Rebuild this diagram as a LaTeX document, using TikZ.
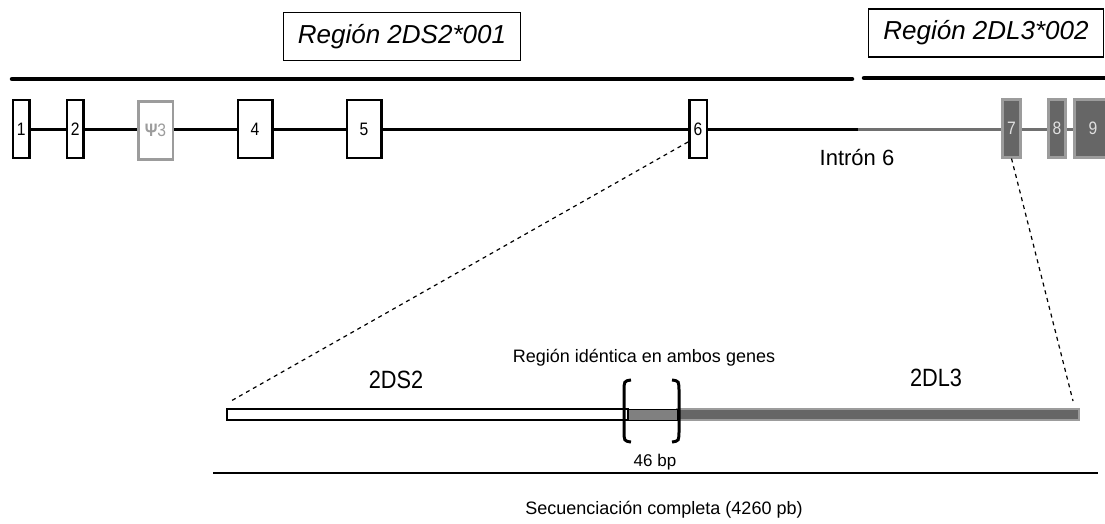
\documentclass[tikz,border=0pt]{standalone}
\usepackage{fontspec}
\setmainfont{Liberation Sans}
\newfontfamily\narrowsans[FakeStretch=0.87]{Liberation Sans}
\usetikzlibrary{calc}
\definecolor{dgray}{HTML}{666666}
\definecolor{lgray}{HTML}{9C9C9C}
\definecolor{mgray}{HTML}{808080}
\definecolor{igray}{HTML}{707070}
\tikzset{
  exon/.style={draw=black, line width=2.5pt, fill=white, minimum height=58pt, inner sep=0pt,
    font=\narrowsans\fontsize{18}{20}\selectfont},
  psexon/.style={draw=lgray, line width=2.5pt, fill=white, text=lgray, minimum height=58pt, inner sep=0pt,
    font=\narrowsans\fontsize{18}{20}\selectfont},
  gexon/.style={draw=lgray, line width=3pt, fill=dgray, text=white!88!black, minimum height=57pt, inner sep=0pt,
    font=\narrowsans\fontsize{18}{20}\selectfont},
  regionbox/.style={draw, line width=1.2pt, inner sep=0pt, minimum height=48pt,
    font=\itshape\fontsize{26}{30}\selectfont},
  bigline/.style={line width=4.5pt, line cap=round},
  gene/.style={line width=3pt},
  zoomline/.style={line width=1.2pt, dash pattern=on 4pt off 4pt},
  lbl/.style={inner sep=0pt},
}
\begin{document}
\begin{tikzpicture}[x=1pt,y=-1pt]
\useasboundingbox (0,0) rectangle (1105,524);

% region labels
\node[regionbox, minimum width=237pt] (r1) at (402,36.5) {Región 2DS2*001};
\node[regionbox, minimum width=235pt] (r2) at (986,33) {Región 2DL3*002};

% thick region lines
\coordinate (la) at (12,79);
\coordinate (lb) at (852,79);
\coordinate (lc) at (864,78);
\coordinate (ld) at (1110,78);
\draw[bigline] (la) -- (lb);
\draw[bigline] (lc) -- (ld);

% exons
\node[exon, minimum width=16.5pt] (e1) at (21.3,129) {1};
\node[exon, minimum width=16.5pt] (e2) at (75.3,129) {2};
\node[psexon, minimum width=34.5pt] (e3) at (155.5,130.5) {{\bfseries Ψ}3};
\node[exon, minimum width=34.5pt] (e4) at (255,129) {4};
\node[exon, minimum width=34.5pt] (e5) at (364,129) {5};
\node[exon, minimum width=17.5pt] (e6) at (698,129) {6};
\node[gexon, minimum width=18pt] (e7) at (1011.5,128.5) {7};
\node[gexon, minimum width=17pt] (e8) at (1057,128.5) {8};
\node[gexon, minimum width=37pt] (e9) at (1093,128.5) {9};
\coordinate (intr) at (858,130);

\draw[gene] (e1.east |- intr) -- (e2.west |- intr);
\draw[gene] (e2.east |- intr) -- (e3.west |- intr);
\draw[gene] (e3.east |- intr) -- (e4.west |- intr);
\draw[gene] (e4.east |- intr) -- (e5.west |- intr);
\draw[gene] (e5.east |- intr) -- (e6.west |- intr);
\draw[gene] (e6.east |- intr) -- (intr);
\draw[gene, igray] (intr) -- (e7.west |- intr);
\draw[gene, igray] (e7.east |- intr) -- (e8.west |- intr);
\draw[gene, igray] (e8.east |- intr) -- (e9.west |- intr);

\node[lbl, font=\fontsize{22}{24}\selectfont] (int6) at (857,158) {Intrón 6};

% zoom lines
\coordinate (zl) at (231,401);
\coordinate (zr) at (1073,401);
\draw[zoomline] ($(e6.west)+(0,13)$) -- (zl);
\draw[zoomline] (e7.south) -- (zr);

% bottom bar
\draw[line width=1.2pt, fill=white] (227,409) rectangle (628,420);
\draw[line width=1.2pt, draw=lgray, fill=dgray] (677,409) rectangle (1079,420);
\draw[line width=1pt, draw=black, fill=mgray] (628,409) rectangle (677,420);

% brackets
\draw[line width=3pt] (631,380) .. controls (624,381) .. (624,392) -- (624,430) .. controls (624,441) .. (631,442);
\draw[line width=3pt] (672,380) .. controls (679,381) .. (679,392) -- (679,430) .. controls (679,441) .. (672,442);

% labels
\node[lbl, font=\fontsize{18}{20}\selectfont] (ident) at (644,358) {Región idéntica en ambos genes};
\node[lbl, font=\narrowsans\fontsize{25}{27}\selectfont] (ds2) at (396,380) {2DS2};
\node[lbl, font=\narrowsans\fontsize{25}{27}\selectfont] (dl3) at (936,378) {2DL3};
\node[lbl, font=\fontsize{17}{19}\selectfont] (bp) at (655,462) {46 bp};

% sequencing line
\coordinate (sa) at (213,473);
\coordinate (sb) at (1098,473);
\draw[line width=1.5pt] (sa) -- (sb);
\node[lbl, font=\fontsize{18}{20}\selectfont] (seq) at (664,510) {Secuenciación completa (4260 pb)};
\end{tikzpicture}
\end{document}
